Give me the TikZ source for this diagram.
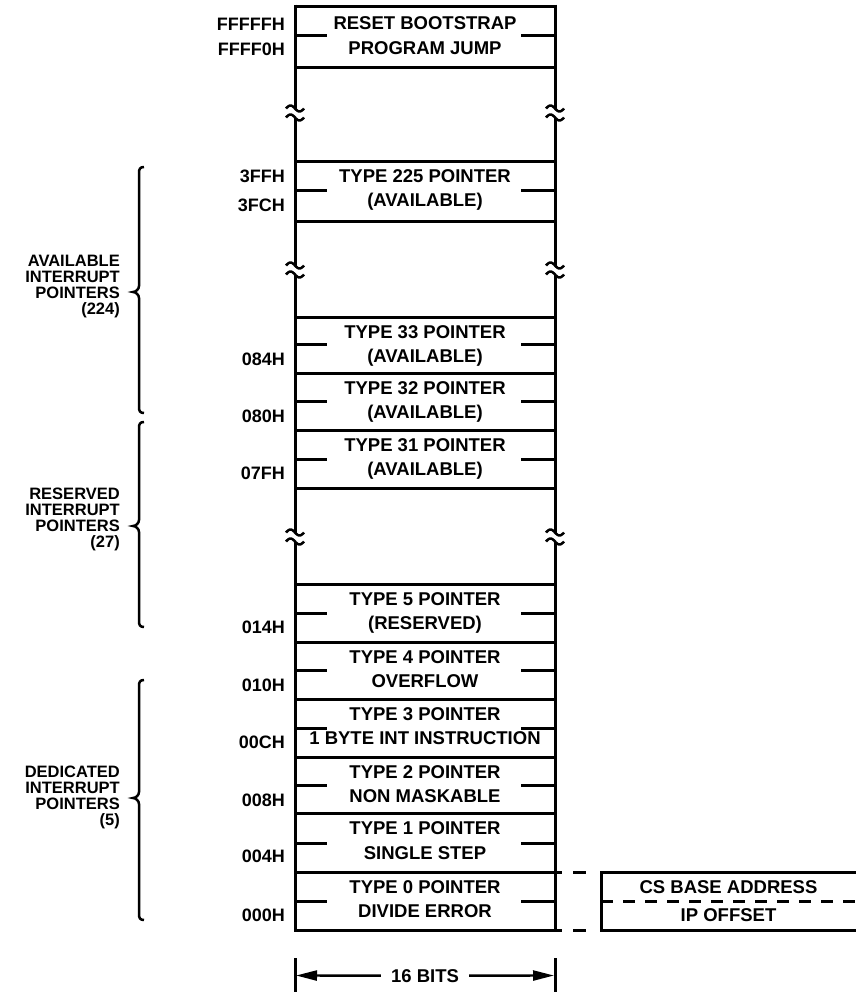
\documentclass[tikz,border=0pt]{standalone}
\usepackage{fontspec}
\setmainfont{Liberation Sans}
\usetikzlibrary{arrows.meta}
\tikzset{
  ln/.style={line width=3pt},
  wv/.style={line width=2.5pt},
  txt/.style={font=\fontsize{18.5}{20}\selectfont\bfseries, inner sep=0pt, anchor=base},
  addr/.style={font=\fontsize{18}{20}\selectfont\bfseries, inner sep=0pt, anchor=base east},
  grp/.style={font=\fontsize{16.5}{15.8}\selectfont\bfseries, inner sep=0pt, align=right, anchor=north east},
  brc/.style={line width=2.5pt},
  dim/.style={line width=2.4pt, -{Triangle[length=21pt,width=10pt]}},
}
\newcommand\brkmark[2]{%
  \draw[wv] plot[domain=-9:9, samples=31, smooth] ({#1+\x},{#2-4.5+3*sin(20*\x)});
  \draw[wv] plot[domain=-9:9, samples=31, smooth] ({#1+\x},{#2+4.5+3*sin(20*\x)});
}
\newcommand\bracepath[4]{% x of spine, top y, tip y, bottom y
  \draw[brc] (#1+5,#2) .. controls (#1+1,#2) and (#1,#2+2) .. (#1,#2+6)
    -- (#1,#3-6) .. controls (#1,#3-3) and (#1-3,#3) .. (#1-6,#3)
    .. controls (#1-3,#3) and (#1,#3+3) .. (#1,#3+6)
    -- (#1,#4-6) .. controls (#1,#4-2) and (#1+1,#4) .. (#1+5,#4);
}
\begin{document}
\begin{tikzpicture}[x=1pt,y=-1pt]
\useasboundingbox (0,0) rectangle (856,993);

% vertical sides with break marks
\foreach \xx in {295,555}{
  \draw[ln] (\xx,4.5) -- (\xx,108.5);
  \draw[ln] (\xx,117.5) -- (\xx,265.5);
  \draw[ln] (\xx,274.5) -- (\xx,532.5);
  \draw[ln] (\xx,541.5) -- (\xx,932);
  \brkmark{\xx}{113}
  \brkmark{\xx}{270}
  \brkmark{\xx}{537}
}
% full horizontal lines
\foreach \yy in {6,67.5,161,221,317,373,430,488.5,584,642,699,757,813.5,872,930.5}
  \draw[ln] (295,\yy) -- (555,\yy);
% middle stubs
\foreach \yy in {35,190,344.5,401,459,613,670.5,728,785,843,901}{
  \draw[ln] (295,\yy) -- (327,\yy);
  \draw[ln] (521,\yy) -- (555,\yy);
}

% box texts
\node[txt] (r1) at (425,29) {RESET BOOTSTRAP};
\node[txt] (r2) at (425,54) {PROGRAM JUMP};
\node[txt] (p225a) at (425,182) {TYPE 225 POINTER};
\node[txt] (p225b) at (425,206.5) {(AVAILABLE)};
\node[txt] (p33a) at (425,338) {TYPE 33 POINTER};
\node[txt] (p33b) at (425,362.5) {(AVAILABLE)};
\node[txt] (p32a) at (425,394) {TYPE 32 POINTER};
\node[txt] (p32b) at (425,418.5) {(AVAILABLE)};
\node[txt] (p31a) at (425,451) {TYPE 31 POINTER};
\node[txt] (p31b) at (425,475.5) {(AVAILABLE)};
\node[txt] (p5a) at (425,605) {TYPE 5 POINTER};
\node[txt] (p5b) at (425,629.5) {(RESERVED)};
\node[txt] (p4a) at (425,663) {TYPE 4 POINTER};
\node[txt] (p4b) at (425,687.5) {OVERFLOW};
\node[txt] (p3a) at (425,720) {TYPE 3 POINTER};
\node[txt] (p3b) at (425,744.5) {1 BYTE INT INSTRUCTION};
\node[txt] (p2a) at (425,778) {TYPE 2 POINTER};
\node[txt] (p2b) at (425,802.5) {NON MASKABLE};
\node[txt] (p1a) at (425,834.5) {TYPE 1 POINTER};
\node[txt] (p1b) at (425,859) {SINGLE STEP};
\node[txt] (p0a) at (425,893) {TYPE 0 POINTER};
\node[txt] (p0b) at (425,917.5) {DIVIDE ERROR};

% addresses
\node[addr] (aFFFFF) at (285,30) {FFFFFH};
\node[addr] (aFFFF0) at (285,55) {FFFF0H};
\node[addr] (a3FF) at (285,182) {3FFH};
\node[addr] (a3FC) at (285,211) {3FCH};
\node[addr] (a084) at (285,365) {084H};
\node[addr] (a080) at (285,422) {080H};
\node[addr] (a07F) at (285,479) {07FH};
\node[addr] (a014) at (285,633) {014H};
\node[addr] (a010) at (285,691) {010H};
\node[addr] (a00C) at (285,748) {00CH};
\node[addr] (a008) at (285,806) {008H};
\node[addr] (a004) at (285,862) {004H};
\node[addr] (a000) at (285,921) {000H};

% braces and group labels
\bracepath{139}{167}{292}{413}
\bracepath{139}{422}{526}{627}
\bracepath{139}{680}{798}{920}
\node[grp] (gavail) at (120,255.2) {AVAILABLE\\INTERRUPT\\POINTERS\\(224)};
\node[grp] (gres) at (120,488.2) {RESERVED\\INTERRUPT\\POINTERS\\(27)};
\node[grp] (gded) at (120,766.2) {DEDICATED\\INTERRUPT\\POINTERS\\(5)};

% expansion of type 0 pointer
\draw[ln, dash pattern=on 7pt off 11pt on 13pt off 20pt] (555,872) -- (601,872);
\draw[ln, dash pattern=on 7pt off 11pt on 13pt off 20pt] (555,930.5) -- (601,930.5);
\draw[ln] (856,872) -- (601,872) -- (601,930.5) -- (856,930.5);
\draw[ln, dash pattern=on 12pt off 10pt] (601,901.5) -- (856,901.5);
\node[txt] (cs) at (728.5,893) {CS BASE ADDRESS};
\node[txt] (ip) at (728.5,921) {IP OFFSET};

% 16 bits dimension
\draw[ln] (295,958) -- (295,992);
\draw[ln] (555,958) -- (555,992);
\coordinate (dl) at (296,975.5);
\coordinate (dr) at (554,975.5);
\node[txt, inner xsep=10pt] (bits) at (425,982) {16 BITS};
\draw[dim] (bits.west) -- (dl);
\draw[dim] (bits.east) -- (dr);
\end{tikzpicture}
\end{document}
